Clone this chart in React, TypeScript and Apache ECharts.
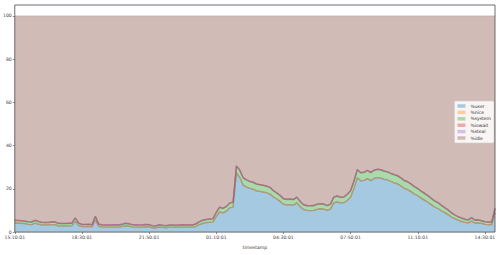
import React, { useEffect, useRef } from "react";
import * as echarts from "echarts";

const startMinutes = 15 * 60 + 10;
const pointCount = 144;
const timestamps: string[] = [];
for (let i = 0; i < pointCount; i++) {
  const m = (startMinutes + i * 10) % 1440;
  const hh = String(Math.floor(m / 60)).padStart(2, "0");
  const mm = String(m % 60).padStart(2, "0");
  timestamps.push(`${hh}:${mm}:01`);
}

const seriesNames = ["%user", "%nice", "%system", "%iowait", "%steal", "%idle"];
const yTicks = [0, 20, 40, 60, 80, 100];

const user = [
  4.2, 4.1, 4.0, 3.9, 3.6, 3.5, 4.1, 3.7, 3.4, 3.3,
  3.3, 3.5, 3.5, 2.9, 2.9, 2.9, 2.9, 3.0, 5.0, 3.1,
  2.5, 2.5, 2.6, 2.4, 5.6, 2.6, 2.3, 2.3, 2.3, 2.3,
  2.3, 2.3, 2.6, 2.9, 2.7, 2.4, 2.3, 2.3, 2.3, 2.5,
  2.4, 2.0, 1.9, 2.4, 2.2, 2.0, 2.3, 2.3, 2.2, 2.3,
  2.3, 2.3, 2.3, 2.3, 2.7, 3.5, 4.0, 4.4, 4.5, 4.6,
  7.2, 9.3, 8.9, 9.7, 11.2, 11.5, 27.4, 25.2, 21.8, 20.8,
  20.2, 19.8, 19.1, 18.8, 18.5, 18.2, 17.6, 16.2, 15.3, 14.2,
  12.9, 12.6, 12.7, 12.5, 13.5, 11.7, 10.4, 10.0, 9.9, 10.0,
  10.5, 10.8, 10.6, 10.0, 10.6, 13.5, 14.0, 13.5, 13.6, 14.6,
  16.1, 20.2, 25.1, 23.7, 23.9, 24.7, 23.8, 24.8, 25.2, 25.0,
  24.4, 24.1, 23.4, 22.8, 22.3, 21.3, 20.2, 19.6, 18.7, 17.6,
  16.8, 15.7, 14.8, 13.8, 12.7, 11.6, 10.9, 9.9, 9.0, 8.1,
  7.0, 6.2, 5.5, 5.0, 4.5, 4.3, 5.1, 4.2, 4.3, 4.0,
  3.6, 3.5, 3.4, 9.0,
];

const nice = [
  0, 0, 0, 0, 0, 0, 0, 0, 0, 0, 0, 0, 0, 0, 0, 0, 0, 0, 0, 0,
  0, 0, 0, 0, 0, 0, 0, 0, 0, 0, 0, 0, 0, 0, 0, 0, 0, 0, 0, 0,
  0, 0, 0, 0, 0, 0, 0, 0, 0, 0, 0, 0, 0, 0, 0, 0, 0, 0, 0, 0,
  0, 0, 0, 0, 0, 0, 0, 0, 0, 0, 0, 0, 0, 0, 0, 0, 0, 0, 0, 0,
  0, 0, 0, 0, 0, 0, 0, 0, 0, 0, 0, 0, 0, 0, 0, 0, 0, 0, 0, 0,
  0, 0, 0, 0, 0, 0, 0, 0, 0, 0, 0, 0, 0, 0, 0, 0, 0, 0, 0, 0,
  0, 0, 0, 0, 0, 0, 0, 0, 0, 0, 0, 0, 0, 0, 0, 0, 0, 0, 0, 0,
  0, 0, 0, 0,
];

const system = [
  1.1, 1.1, 1.1, 1.0, 1.0, 1.0, 1.2, 1.1, 1.0, 1.0,
  1.0, 1.1, 1.0, 1.0, 0.9, 0.9, 1.0, 1.0, 1.4, 1.0,
  0.9, 0.9, 0.9, 0.9, 1.5, 0.9, 0.9, 0.8, 0.8, 0.8,
  0.9, 0.9, 0.9, 1.0, 1.0, 0.9, 0.9, 0.8, 0.9, 0.9,
  0.9, 0.8, 0.8, 0.9, 0.8, 0.8, 0.8, 0.8, 0.8, 0.8,
  0.9, 0.8, 0.9, 0.8, 1.0, 1.2, 1.3, 1.3, 1.4, 1.4,
  1.8, 2.0, 2.0, 2.0, 2.1, 2.2, 3.0, 3.3, 3.2, 3.2,
  3.1, 3.1, 3.0, 3.0, 3.0, 2.9, 2.9, 2.8, 2.7, 2.6,
  2.4, 2.4, 2.4, 2.4, 2.5, 2.3, 2.1, 2.1, 2.1, 2.1,
  2.2, 2.2, 2.2, 2.1, 2.2, 2.5, 2.5, 2.5, 2.5, 2.7,
  2.9, 3.3, 3.6, 3.6, 3.6, 3.7, 3.6, 3.7, 3.7, 3.7,
  3.7, 3.6, 3.6, 3.6, 3.6, 3.6, 3.5, 3.5, 3.4, 3.3,
  3.2, 3.1, 3.0, 2.9, 2.8, 2.7, 2.6, 2.4, 2.2, 2.0,
  1.8, 1.6, 1.5, 1.4, 1.3, 1.2, 1.4, 1.2, 1.2, 1.1,
  1.0, 1.0, 1.0, 1.8,
];

const iowait = [
  0.2, 0.2, 0.2, 0.2, 0.2, 0.2, 0.2, 0.2, 0.2, 0.2, 0.2, 0.2, 0.2, 0.2, 0.2, 0.2,
  0.2, 0.2, 0.2, 0.2, 0.2, 0.2, 0.2, 0.2, 0.2, 0.2, 0.2, 0.2, 0.2, 0.2, 0.2, 0.2,
  0.2, 0.2, 0.2, 0.2, 0.2, 0.2, 0.2, 0.2, 0.2, 0.2, 0.2, 0.2, 0.2, 0.2, 0.2, 0.2,
  0.2, 0.2, 0.2, 0.2, 0.2, 0.2, 0.2, 0.2, 0.2, 0.2, 0.2, 0.2, 0.2, 0.2, 0.2, 0.2,
  0.2, 0.2, 0.2, 0.2, 0.2, 0.2, 0.2, 0.2, 0.2, 0.2, 0.2, 0.2, 0.2, 0.2, 0.2, 0.2,
  0.2, 0.2, 0.2, 0.2, 0.2, 0.2, 0.2, 0.2, 0.2, 0.2, 0.2, 0.2, 0.2, 0.2, 0.2, 0.2,
  0.2, 0.2, 0.2, 0.2, 0.2, 0.2, 0.2, 0.2, 0.2, 0.2, 0.2, 0.2, 0.2, 0.2, 0.2, 0.2,
  0.2, 0.2, 0.2, 0.2, 0.2, 0.2, 0.2, 0.2, 0.2, 0.2, 0.2, 0.2, 0.2, 0.2, 0.2, 0.2,
  0.2, 0.2, 0.2, 0.2, 0.2, 0.2, 0.2, 0.2, 0.2, 0.2, 0.2, 0.2, 0.2, 0.2, 0.2, 0.2,
];

const steal = [
  0, 0, 0, 0, 0, 0, 0, 0, 0, 0, 0, 0, 0, 0, 0, 0, 0, 0, 0, 0,
  0, 0, 0, 0, 0, 0, 0, 0, 0, 0, 0, 0, 0, 0, 0, 0, 0, 0, 0, 0,
  0, 0, 0, 0, 0, 0, 0, 0, 0, 0, 0, 0, 0, 0, 0, 0, 0, 0, 0, 0,
  0, 0, 0, 0, 0, 0, 0, 0, 0, 0, 0, 0, 0, 0, 0, 0, 0, 0, 0, 0,
  0, 0, 0, 0, 0, 0, 0, 0, 0, 0, 0, 0, 0, 0, 0, 0, 0, 0, 0, 0,
  0, 0, 0, 0, 0, 0, 0, 0, 0, 0, 0, 0, 0, 0, 0, 0, 0, 0, 0, 0,
  0, 0, 0, 0, 0, 0, 0, 0, 0, 0, 0, 0, 0, 0, 0, 0, 0, 0, 0, 0,
  0, 0, 0, 0,
];

const idle = [
  94.5, 94.6, 94.7, 94.9, 95.2, 95.3, 94.5, 95.0, 95.4, 95.5,
  95.5, 95.2, 95.3, 95.9, 96.0, 96.0, 95.9, 95.8, 93.4, 95.7,
  96.4, 96.4, 96.3, 96.5, 92.7, 96.3, 96.6, 96.7, 96.7, 96.7,
  96.6, 96.6, 96.3, 95.9, 96.1, 96.5, 96.6, 96.7, 96.6, 96.4,
  96.5, 97.0, 97.1, 96.5, 96.8, 97.0, 96.7, 96.7, 96.8, 96.7,
  96.6, 96.7, 96.6, 96.7, 96.1, 95.1, 94.5, 94.1, 93.9, 93.8,
  90.8, 88.5, 88.9, 88.1, 86.5, 86.1, 69.4, 71.3, 74.8, 75.8,
  76.5, 76.9, 77.7, 78.0, 78.3, 78.7, 79.3, 80.8, 81.8, 83.0,
  84.5, 84.8, 84.7, 84.9, 83.8, 85.8, 87.3, 87.7, 87.8, 87.7,
  87.1, 86.8, 87.0, 87.7, 87.0, 83.8, 83.3, 83.8, 83.7, 82.5,
  80.8, 76.3, 71.1, 72.5, 72.3, 71.4, 72.4, 71.3, 70.9, 71.1,
  71.7, 72.1, 72.8, 73.4, 73.9, 74.9, 76.1, 76.7, 77.7, 78.9,
  79.8, 81.0, 82.0, 83.1, 84.3, 85.5, 86.3, 87.5, 88.6, 89.7,
  91.0, 92.0, 92.8, 93.4, 94.0, 94.3, 93.3, 94.4, 94.3, 94.7,
  95.2, 95.3, 95.4, 89.0,
];

const seriesValues = [user, nice, system, iowait, steal, idle];
const fillColors = ["#a5c9e1", "#ffcc9f", "#abd9ab", "#eea9a9", "#d4c2e5", "#d1bbb7"];
const lineColors = [
  "rgba(31,119,180,0.45)",
  "rgba(255,127,14,0.45)",
  "rgba(44,160,44,0.45)",
  "rgba(214,39,40,0.45)",
  "rgba(148,103,189,0.45)",
  "rgba(140,86,75,0.12)",
];

const FONT = "DejaVu Sans";

export default function App() {
  const ref = useRef<HTMLDivElement>(null);
  useEffect(() => {
    if (!ref.current) return;
    const chart = echarts.init(ref.current, undefined, { renderer: "svg" });
    chart.setOption({
      animation: false,
      backgroundColor: "#ffffff",
      grid: {
        left: 14,
        right: 5,
        top: 5,
        bottom: 17,
        show: true,
        borderColor: "#4a4a4a",
        borderWidth: 0.8,
        backgroundColor: "transparent",
        z: 10,
      },
      legend: {
        orient: "vertical",
        right: 6,
        top: 101,
        icon: "rect",
        itemWidth: 8,
        itemHeight: 3.5,
        itemGap: 0.4,
        padding: [2, 3, 2, 3],
        backgroundColor: "rgba(255,255,255,0.85)",
        borderColor: "#d0d0d0",
        borderWidth: 0.6,
        borderRadius: 1,
        textStyle: { fontFamily: FONT, fontSize: 4.5, lineHeight: 6, color: "#333" },
        data: seriesNames,
      },
      xAxis: {
        type: "category",
        data: timestamps,
        boundaryGap: false,
        name: "timestamp",
        nameLocation: "middle",
        nameGap: 9,
        nameTextStyle: { fontFamily: FONT, fontSize: 4.5, color: "#333" },
        axisLine: { show: false },
        axisTick: { show: true, interval: 19, length: 2, lineStyle: { color: "#444", width: 0.6 } },
        axisLabel: { interval: 19, margin: 3, fontFamily: FONT, fontSize: 4.6, color: "#444" },
        splitLine: { show: false },
      },
      yAxis: {
        type: "value",
        min: 0,
        max: 105,
        interval: 20,
        axisLine: { show: false },
        axisTick: {
          show: true,
          length: 2,
          customValues: yTicks,
          lineStyle: { color: "#444", width: 0.6 },
        },
        axisLabel: {
          margin: 3,
          fontFamily: FONT,
          fontSize: 4.6,
          color: "#444",
          customValues: yTicks,
        },
        splitLine: { show: false },
      },
      series: seriesNames.map((name, k) => ({
        name,
        type: "line",
        stack: "cpu",
        data: seriesValues[k],
        symbol: "none",
        showSymbol: false,
        color: fillColors[k],
        itemStyle: { color: fillColors[k] },
        lineStyle: { color: lineColors[k], width: 1.3 },
        areaStyle: { color: fillColors[k], opacity: 1 },
        emphasis: { disabled: true },
      })),
    });
    return () => chart.dispose();
  }, []);
  return <div ref={ref} style={{ width: 500, height: 255, position: "absolute", left: 0, top: 0 }} />;
}
